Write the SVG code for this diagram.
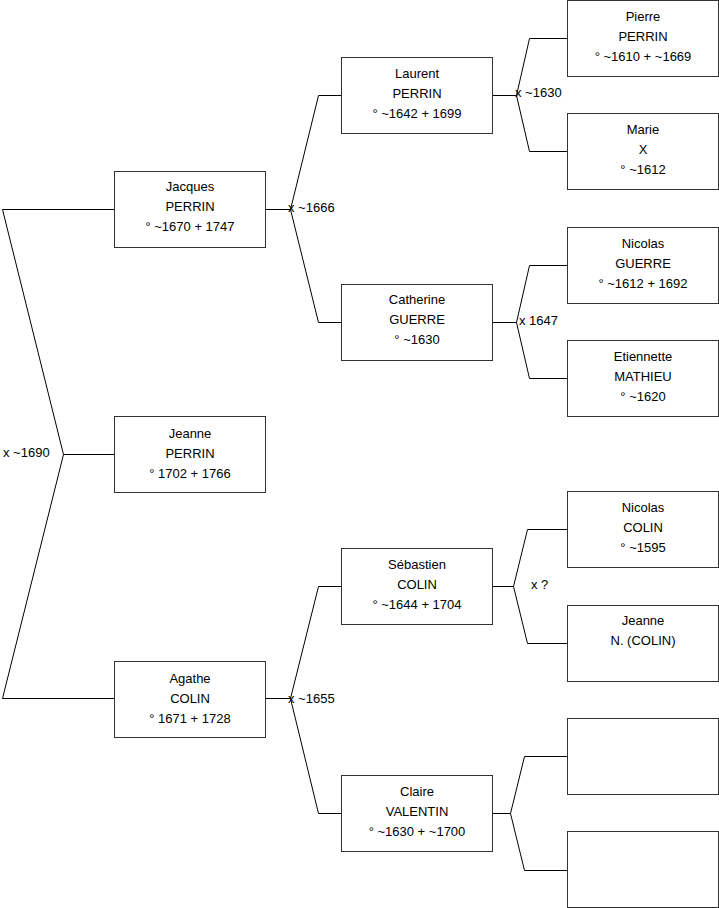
<svg xmlns="http://www.w3.org/2000/svg" width="719" height="908" viewBox="0 0 719 908">
<style>
.box{fill:#fff;stroke:#333;stroke-width:1}
.t{font-family:"Liberation Sans",Arial,sans-serif;font-size:13px;fill:#000;text-anchor:middle}
.l{font-family:"Liberation Sans",Arial,sans-serif;font-size:13px;fill:#000}
.c{fill:none;stroke:#000;stroke-width:1}
</style>
<rect width="719" height="908" fill="#fff"/>
<g id="connectors">
<path class="c" d="M114.5,454.5 H63.5 L2.5,209.5 H114.5 M63.5,454.5 L2.5,698.5 H114.5"/>
<path class="c" d="M265.5,209.5 H290.5 L318.5,95.5 H341 M290.5,209.5 L318.5,322.5 H341"/>
<path class="c" d="M265.5,698.5 H290.5 L318.5,586.5 H341 M290.5,698.5 L318.5,813.5 H341"/>
<path class="c" d="M492.5,95.5 H516.5 L529.5,38.5 H567 M516.5,95.5 L529.5,151.5 H567"/>
<path class="c" d="M492.5,322.5 H516.5 L529.5,265.5 H567 M516.5,322.5 L529.5,378.5 H567"/>
<path class="c" d="M492.5,586.5 H513.5 L527.5,529.5 H567 M513.5,586.5 L527.5,643.5 H567"/>
<path class="c" d="M492.5,813.5 H510.5 L524.5,756.5 H567 M510.5,813.5 L524.5,870.5 H567"/>
<text class="l" x="3" y="457">x ~1690</text>
<text class="l" x="288" y="212">x ~1666</text>
<text class="l" x="288" y="703">x ~1655</text>
<text class="l" x="515" y="97">x ~1630</text>
<text class="l" x="519" y="325">x 1647</text>
<text class="l" x="531" y="589">x ?</text>
</g>
<g id="jacques"><rect class="box" x="114.5" y="171.5" width="151" height="76"/><text class="t" x="190" y="191">Jacques</text><text class="t" x="190" y="211">PERRIN</text><text class="t" x="190" y="231">° ~1670 + 1747</text></g>
<g id="jeanne"><rect class="box" x="114.5" y="416.5" width="151" height="76"/><text class="t" x="190" y="438">Jeanne</text><text class="t" x="190" y="458">PERRIN</text><text class="t" x="190" y="478">° 1702 + 1766</text></g>
<g id="agathe"><rect class="box" x="114.5" y="661.5" width="151" height="76"/><text class="t" x="190" y="683">Agathe</text><text class="t" x="190" y="703">COLIN</text><text class="t" x="190" y="723">° 1671 + 1728</text></g>
<g id="laurent"><rect class="box" x="341.5" y="57.5" width="151" height="76"/><text class="t" x="417" y="78">Laurent</text><text class="t" x="417" y="98">PERRIN</text><text class="t" x="417" y="118">° ~1642 + 1699</text></g>
<g id="catherine"><rect class="box" x="341.5" y="284.5" width="151" height="76"/><text class="t" x="417" y="304">Catherine</text><text class="t" x="417" y="324">GUERRE</text><text class="t" x="417" y="344">° ~1630</text></g>
<g id="sebastien"><rect class="box" x="341.5" y="548.5" width="151" height="76"/><text class="t" x="417" y="569">Sébastien</text><text class="t" x="417" y="589">COLIN</text><text class="t" x="417" y="609">° ~1644 + 1704</text></g>
<g id="claire"><rect class="box" x="341.5" y="775.5" width="151" height="76"/><text class="t" x="417" y="796">Claire</text><text class="t" x="417" y="816">VALENTIN</text><text class="t" x="417" y="836">° ~1630 + ~1700</text></g>
<g id="pierre"><rect class="box" x="567.5" y="0.5" width="151" height="76"/><text class="t" x="643" y="21">Pierre</text><text class="t" x="643" y="41">PERRIN</text><text class="t" x="643" y="61">° ~1610 + ~1669</text></g>
<g id="marie"><rect class="box" x="567.5" y="113.5" width="151" height="76"/><text class="t" x="643" y="134">Marie</text><text class="t" x="643" y="154">X</text><text class="t" x="643" y="174">° ~1612</text></g>
<g id="nicolas-guerre"><rect class="box" x="567.5" y="227.5" width="151" height="76"/><text class="t" x="643" y="248">Nicolas</text><text class="t" x="643" y="268">GUERRE</text><text class="t" x="643" y="288">° ~1612 + 1692</text></g>
<g id="etiennette"><rect class="box" x="567.5" y="340.5" width="151" height="76"/><text class="t" x="643" y="361">Etiennette</text><text class="t" x="643" y="381">MATHIEU</text><text class="t" x="643" y="401">° ~1620</text></g>
<g id="nicolas-colin"><rect class="box" x="567.5" y="491.5" width="151" height="76"/><text class="t" x="643" y="512">Nicolas</text><text class="t" x="643" y="532">COLIN</text><text class="t" x="643" y="552">° ~1595</text></g>
<g id="jeanne-n"><rect class="box" x="567.5" y="605.5" width="151" height="76"/><text class="t" x="643" y="625">Jeanne</text><text class="t" x="643" y="645">N. (COLIN)</text></g>
<g id="unknown-1"><rect class="box" x="567.5" y="718.5" width="151" height="76"/></g>
<g id="unknown-2"><rect class="box" x="567.5" y="831.5" width="151" height="76"/></g>
</svg>
